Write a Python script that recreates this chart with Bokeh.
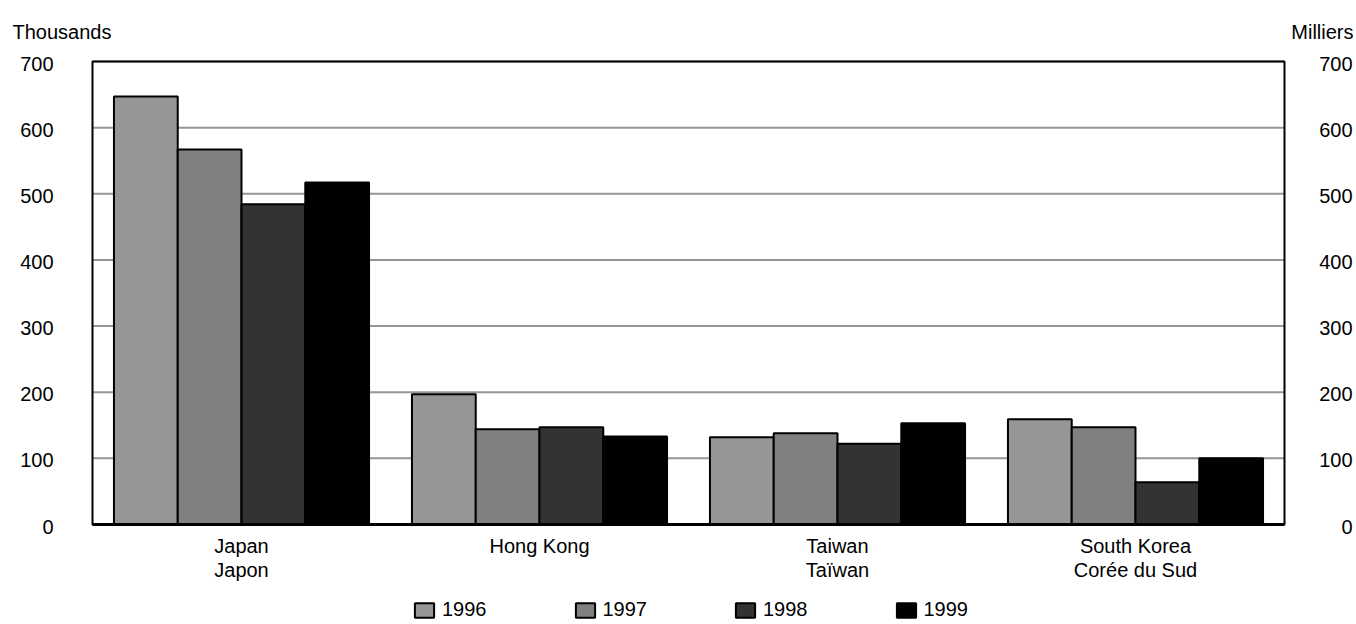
from bokeh.plotting import figure
from bokeh.models import ColumnDataSource, Range1d, Legend, LegendItem
from bokeh.core.properties import value
from bokeh.embed import file_html
from bokeh.resources import INLINE

categories = ["Japan\nJapon", "Hong Kong", "Taiwan\nTaïwan", "South Korea\nCorée du Sud"]
years = ["1996", "1997", "1998", "1999"]
v1996 = [647, 197, 132, 159]
v1997 = [567, 144, 138, 147]
v1998 = [484, 147, 122, 64]
v1999 = [517, 133, 153, 100]
y_ticks = [0, 100, 200, 300, 400, 500, 600, 700]
y_labels = [str(t) for t in y_ticks]
unit_left = "Thousands"
unit_right = "Milliers"
colors = ["#969696", "#808080", "#333333", "#000000"]

FONT = value("Liberation Sans")
FS = value("20px")

# page layout (pixels): plot box and canvas
W, H = 1356, 624
BOX_L, BOX_R, BOX_T, BOX_B = 92, 1284, 61, 524
YMAX = 700
n_cat = len(categories)
px_x = (BOX_R - BOX_L) / n_cat
px_y = (BOX_B - BOX_T) / YMAX

p = figure(width=W, height=H, output_backend="svg", toolbar_location=None,
           x_range=Range1d(-BOX_L / px_x, (W - BOX_L) / px_x),
           y_range=Range1d(-(H - BOX_B) / px_y, BOX_B / px_y),
           x_axis_location=None, y_axis_location=None,
           min_border_left=0, min_border_right=0, min_border_top=0,
           min_border_bottom=0, outline_line_color=None,
           background_fill_color="white", border_fill_color="white")
p.title.visible = False
p.grid.visible = False

# horizontal grid lines at the tick values
p.segment(x0=[0] * len(y_ticks), x1=[n_cat] * len(y_ticks), y0=y_ticks, y1=y_ticks,
          line_color="#969696", line_width=2)

# plot box
p.quad(left=[0], right=[n_cat], bottom=[0], top=[YMAX], fill_color=None,
       line_color="black", line_width=2)

# bars
series = [v1996, v1997, v1998, v1999]
bw = 0.214
renderers = []
for k, vals in enumerate(series):
    xs = [i + 0.5 + (k - 1.5) * bw for i in range(n_cat)]
    src = ColumnDataSource(dict(x=xs, top=vals))
    r = p.vbar(x="x", top="top", width=bw, bottom=0, source=src,
               fill_color=colors[k], line_color="black", line_width=2)
    renderers.append(r)

# x axis line (heavy baseline)
p.segment(x0=[0], x1=[n_cat], y0=[0], y1=[0], line_color="black", line_width=3)

# y tick labels, left and right
p.text(x=[0] * len(y_ticks), y=y_ticks, text=y_labels, x_offset=-39, y_offset=2,
       text_align="right", text_baseline="middle", text_font=FONT,
       text_font_size=FS, text_color="black")
p.text(x=[n_cat] * len(y_ticks), y=y_ticks, text=y_labels, x_offset=68, y_offset=2,
       text_align="right", text_baseline="middle", text_font=FONT,
       text_font_size=FS, text_color="black")

# category labels
p.text(x=[i + 0.5 for i in range(n_cat)], y=[0] * n_cat, text=categories,
       y_offset=10, text_align="center", text_baseline="top",
       text_line_height=1.1, text_font=FONT, text_font_size=FS,
       text_color="black")

# unit captions
p.text(x=[0], y=[YMAX], text=[unit_left], x_offset=-80, y_offset=-(BOX_T - 31),
       text_align="left", text_baseline="alphabetic", text_font=FONT,
       text_font_size=FS, text_color="black")
p.text(x=[n_cat], y=[YMAX], text=[unit_right], x_offset=69, y_offset=-(BOX_T - 31),
       text_align="right", text_baseline="alphabetic", text_font=FONT,
       text_font_size=FS, text_color="black")

# legend
legend = Legend(items=[LegendItem(label=y, renderers=[r]) for y, r in zip(years, renderers)],
                orientation="horizontal", location=(412, 3),
                glyph_width=24, glyph_height=18, label_height=18,
                label_standoff=6, spacing=86, padding=0, margin=0,
                border_line_color=None, background_fill_alpha=0,
                label_text_font="Liberation Sans", label_text_font_size="20px",
                label_text_color="black")
p.add_layout(legend)

open("out.html", "w").write(file_html(p, INLINE))
